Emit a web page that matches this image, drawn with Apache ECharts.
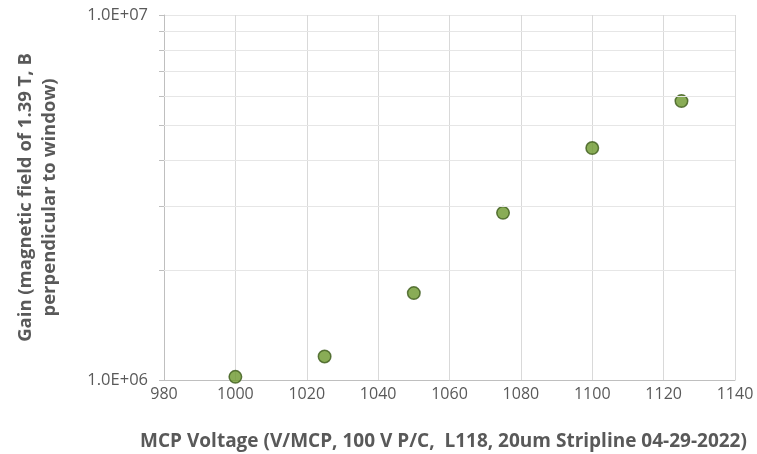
<!DOCTYPE html>
<html><head><meta charset="utf-8">
<script src="https://cdn.jsdelivr.net/npm/echarts@6/dist/echarts.min.js"></script>
<style>html,body{margin:0;padding:0;background:#fff}#c{width:757px;height:454px}</style>
</head><body><div id="c"></div>
<script>
const voltages = [1000, 1025, 1050, 1075, 1100, 1125];
const gains = [1.02e6, 1.16e6, 1.73e6, 2.87e6, 4.32e6, 5.81e6];
const yMinorTicks = [1e6, 2e6, 3e6, 4e6, 5e6, 6e6, 7e6, 8e6, 9e6, 1e7];
const yMajorLabels = [1e6, 1e7];
const xTitle = 'MCP Voltage (V/MCP, 100 V P/C,  L118, 20um Stripline 04-29-2022)';
const yTitleLine1 = 'Gain (magnetic field of 1.39 T, B';
const yTitleLine2 = 'perpendicular to window)';

const font = 'Open Sans';
const titleStyle = {fontFamily: font, fontSize: 18.5, fontWeight: 'bold', color: '#595959'};
const chart = echarts.init(document.getElementById('c'));
chart.setOption({
  animation: false,
  grid: {left: 164, right: 22, top: 15, bottom: 74, containLabel: false, outerBoundsMode: 'none'},
  xAxis: {
    type: 'value', min: 980, max: 1140, interval: 20,
    name: xTitle, nameLocation: 'middle', nameGap: 52,
    nameTextStyle: Object.assign({}, titleStyle, {fontSize: 19, padding: [0, 12, 0, 0]}),
    axisLine: {show: true, lineStyle: {color: '#bfbfbf', width: 1}},
    axisTick: {show: false},
    axisLabel: {fontFamily: font, fontSize: 16, color: '#595959', margin: 6, formatter: v => String(v)},
    splitLine: {show: true, lineStyle: {color: '#d9d9d9', width: 1}}
  },
  yAxis: [{
    type: 'log', logBase: 10, min: 1e6, max: 1e7,
    name: yTitleLine1, nameLocation: 'middle', nameGap: 129,
    nameTextStyle: titleStyle,
    axisLine: {show: true, lineStyle: {color: '#bfbfbf', width: 1}},
    axisTick: {show: true, length: 5, lineStyle: {color: '#bfbfbf'}, customValues: yMinorTicks},
    axisLabel: {fontFamily: font, fontSize: 16.5, color: '#595959', margin: 16, customValues: yMajorLabels,
      formatter: v => v.toExponential(1).toUpperCase().replace(/E\+(\d)$/, 'E+0$1')},
    splitLine: {show: true, lineStyle: {color: '#e6e6e6', width: 1}}
  }, {
    type: 'log', logBase: 10, min: 1e6, max: 1e7, position: 'left',
    name: yTitleLine2, nameLocation: 'middle', nameGap: 105,
    nameTextStyle: titleStyle,
    axisLine: {show: false}, axisTick: {show: false}, axisLabel: {show: false}, splitLine: {show: false}
  }],
  series: [{
    type: 'scatter',
    data: voltages.map((v, i) => [v, gains[i]]),
    symbolSize: 12.5,
    itemStyle: {color: '#6b972c', borderColor: '#3c5a1a', borderWidth: 1.5},
    markLine: {
      silent: true, symbol: 'none', label: {show: false},
      lineStyle: {color: '#e6e6e6', type: 'solid', width: 1},
      data: yMinorTicks.slice(1, -1).map(v => ({yAxis: v}))
    }
  }]
});
</script></body></html>
